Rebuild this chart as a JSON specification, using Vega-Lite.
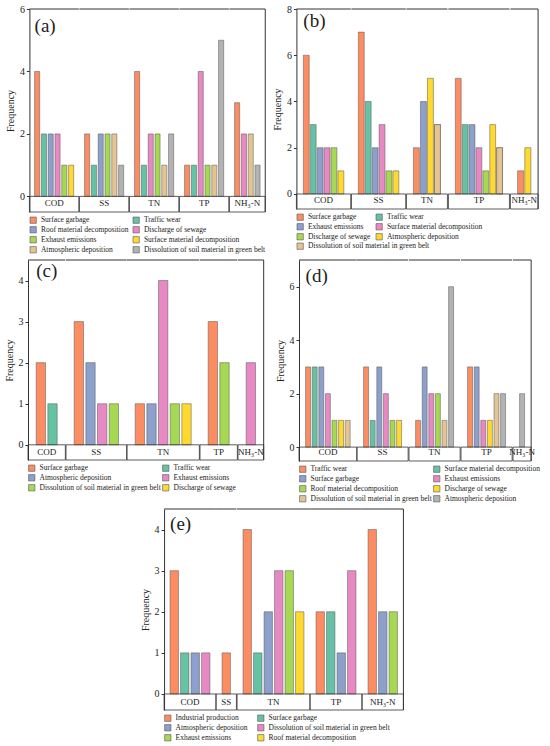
{
  "$schema": "https://vega.github.io/schema/vega-lite/v6.json",
  "padding": {"left": 4, "top": 4, "right": 2, "bottom": 2},
  "datasets": {
    "a": [
      {"g": "COD", "s": "Surface garbage", "v": 4},
      {"g": "COD", "s": "Traffic wear", "v": 2},
      {"g": "COD", "s": "Roof material decomposition", "v": 2},
      {"g": "COD", "s": "Discharge of sewage", "v": 2},
      {"g": "COD", "s": "Exhaust emissions", "v": 1},
      {"g": "COD", "s": "Surface material decomposition", "v": 1},
      {"g": "SS", "s": "Surface garbage", "v": 2},
      {"g": "SS", "s": "Traffic wear", "v": 1},
      {"g": "SS", "s": "Roof material decomposition", "v": 2},
      {"g": "SS", "s": "Exhaust emissions", "v": 2},
      {"g": "SS", "s": "Atmospheric deposition", "v": 2},
      {"g": "SS", "s": "Dissolution of soil material in green belt", "v": 1},
      {"g": "TN", "s": "Surface garbage", "v": 4},
      {"g": "TN", "s": "Traffic wear", "v": 1},
      {"g": "TN", "s": "Discharge of sewage", "v": 2},
      {"g": "TN", "s": "Exhaust emissions", "v": 2},
      {"g": "TN", "s": "Atmospheric deposition", "v": 1},
      {"g": "TN", "s": "Dissolution of soil material in green belt", "v": 2},
      {"g": "TP", "s": "Surface garbage", "v": 1},
      {"g": "TP", "s": "Traffic wear", "v": 1},
      {"g": "TP", "s": "Discharge of sewage", "v": 4},
      {"g": "TP", "s": "Exhaust emissions", "v": 1},
      {"g": "TP", "s": "Atmospheric deposition", "v": 1},
      {"g": "TP", "s": "Dissolution of soil material in green belt", "v": 5},
      {"g": "NH₃-N", "s": "Surface garbage", "v": 3},
      {"g": "NH₃-N", "s": "Discharge of sewage", "v": 2},
      {"g": "NH₃-N", "s": "Atmospheric deposition", "v": 2},
      {"g": "NH₃-N", "s": "Dissolution of soil material in green belt", "v": 1}
    ],
    "b": [
      {"g": "COD", "s": "Surface garbage", "v": 6},
      {"g": "COD", "s": "Traffic wear", "v": 3},
      {"g": "COD", "s": "Exhaust emissions", "v": 2},
      {"g": "COD", "s": "Surface material decomposition", "v": 2},
      {"g": "COD", "s": "Discharge of sewage", "v": 2},
      {"g": "COD", "s": "Atmospheric deposition", "v": 1},
      {"g": "SS", "s": "Surface garbage", "v": 7},
      {"g": "SS", "s": "Traffic wear", "v": 4},
      {"g": "SS", "s": "Exhaust emissions", "v": 2},
      {"g": "SS", "s": "Surface material decomposition", "v": 3},
      {"g": "SS", "s": "Discharge of sewage", "v": 1},
      {"g": "SS", "s": "Atmospheric deposition", "v": 1},
      {"g": "TN", "s": "Surface garbage", "v": 2},
      {"g": "TN", "s": "Exhaust emissions", "v": 4},
      {"g": "TN", "s": "Atmospheric deposition", "v": 5},
      {"g": "TN", "s": "Dissolution of soil material in green belt", "v": 3},
      {"g": "TP", "s": "Surface garbage", "v": 5},
      {"g": "TP", "s": "Traffic wear", "v": 3},
      {"g": "TP", "s": "Exhaust emissions", "v": 3},
      {"g": "TP", "s": "Surface material decomposition", "v": 2},
      {"g": "TP", "s": "Discharge of sewage", "v": 1},
      {"g": "TP", "s": "Atmospheric deposition", "v": 3},
      {"g": "TP", "s": "Dissolution of soil material in green belt", "v": 2},
      {"g": "NH₃-N", "s": "Surface garbage", "v": 1},
      {"g": "NH₃-N", "s": "Atmospheric deposition", "v": 2}
    ],
    "c": [
      {"g": "COD", "s": "Surface garbage", "v": 2},
      {"g": "COD", "s": "Traffic wear", "v": 1},
      {"g": "SS", "s": "Surface garbage", "v": 3},
      {"g": "SS", "s": "Atmospheric deposition", "v": 2},
      {"g": "SS", "s": "Exhaust emissions", "v": 1},
      {"g": "SS", "s": "Dissolution of soil material in green belt", "v": 1},
      {"g": "TN", "s": "Surface garbage", "v": 1},
      {"g": "TN", "s": "Atmospheric deposition", "v": 1},
      {"g": "TN", "s": "Exhaust emissions", "v": 4},
      {"g": "TN", "s": "Dissolution of soil material in green belt", "v": 1},
      {"g": "TN", "s": "Discharge of sewage", "v": 1},
      {"g": "TP", "s": "Surface garbage", "v": 3},
      {"g": "TP", "s": "Dissolution of soil material in green belt", "v": 2},
      {"g": "NH₃-N", "s": "Exhaust emissions", "v": 2}
    ],
    "d": [
      {"g": "COD", "s": "Traffic wear", "v": 3},
      {"g": "COD", "s": "Surface material decomposition", "v": 3},
      {"g": "COD", "s": "Surface garbage", "v": 3},
      {"g": "COD", "s": "Exhaust emissions", "v": 2},
      {"g": "COD", "s": "Roof material decomposition", "v": 1},
      {"g": "COD", "s": "Discharge of sewage", "v": 1},
      {"g": "COD", "s": "Dissolution of soil material in green belt", "v": 1},
      {"g": "SS", "s": "Traffic wear", "v": 3},
      {"g": "SS", "s": "Surface material decomposition", "v": 1},
      {"g": "SS", "s": "Surface garbage", "v": 3},
      {"g": "SS", "s": "Exhaust emissions", "v": 2},
      {"g": "SS", "s": "Roof material decomposition", "v": 1},
      {"g": "SS", "s": "Discharge of sewage", "v": 1},
      {"g": "TN", "s": "Traffic wear", "v": 1},
      {"g": "TN", "s": "Surface garbage", "v": 3},
      {"g": "TN", "s": "Exhaust emissions", "v": 2},
      {"g": "TN", "s": "Roof material decomposition", "v": 2},
      {"g": "TN", "s": "Dissolution of soil material in green belt", "v": 1},
      {"g": "TN", "s": "Atmospheric deposition", "v": 6},
      {"g": "TP", "s": "Traffic wear", "v": 3},
      {"g": "TP", "s": "Surface garbage", "v": 3},
      {"g": "TP", "s": "Exhaust emissions", "v": 1},
      {"g": "TP", "s": "Discharge of sewage", "v": 1},
      {"g": "TP", "s": "Dissolution of soil material in green belt", "v": 2},
      {"g": "TP", "s": "Atmospheric deposition", "v": 2},
      {"g": "NH₃-N", "s": "Atmospheric deposition", "v": 2}
    ],
    "e": [
      {"g": "COD", "s": "Industrial production", "v": 3},
      {"g": "COD", "s": "Surface garbage", "v": 1},
      {"g": "COD", "s": "Atmospheric deposition", "v": 1},
      {"g": "COD", "s": "Dissolution of soil material in green belt", "v": 1},
      {"g": "SS", "s": "Industrial production", "v": 1},
      {"g": "TN", "s": "Industrial production", "v": 4},
      {"g": "TN", "s": "Surface garbage", "v": 1},
      {"g": "TN", "s": "Atmospheric deposition", "v": 2},
      {"g": "TN", "s": "Dissolution of soil material in green belt", "v": 3},
      {"g": "TN", "s": "Exhaust emissions", "v": 3},
      {"g": "TN", "s": "Roof material decomposition", "v": 2},
      {"g": "TP", "s": "Industrial production", "v": 2},
      {"g": "TP", "s": "Surface garbage", "v": 2},
      {"g": "TP", "s": "Atmospheric deposition", "v": 1},
      {"g": "TP", "s": "Dissolution of soil material in green belt", "v": 3},
      {"g": "NH₃-N", "s": "Industrial production", "v": 4},
      {"g": "NH₃-N", "s": "Atmospheric deposition", "v": 2},
      {"g": "NH₃-N", "s": "Exhaust emissions", "v": 2}
    ]
  },
  "vconcat": [
    {
      "hconcat": [
        {
          "data": {"name": "a"},
          "facet": {"column": {"field": "g", "type": "nominal", "sort": ["COD", "SS", "TN", "TP", "NH₃-N"], "header": {"title": null, "labelOrient": "bottom", "labelPadding": -13}}},
          "spacing": 0,
          "bounds": "flush",
          "resolve": {"scale": {"x": "independent"}},
          "spec": {
            "width": {"step": 6.8},
            "height": 203,
            "layer": [
              {
                "mark": {"type": "bar", "stroke": "#555", "strokeWidth": 0.5},
                "encoding": {
                  "x": {"field": "s", "type": "nominal", "axis": null,
                    "sort": ["Surface garbage", "Traffic wear", "Roof material decomposition", "Discharge of sewage", "Exhaust emissions", "Surface material decomposition", "Atmospheric deposition", "Dissolution of soil material in green belt"],
                    "scale": {"paddingInner": 0.25, "paddingOuter": 0.76}},
                  "y": {"field": "v", "type": "quantitative", "title": "Frequency",
                    "scale": {"domain": [-0.5, 6], "nice": false}, "axis": {"values": [0, 2, 4, 6]}},
                  "y2": {"datum": 0},
                  "color": {"field": "s", "type": "nominal",
                    "scale": {"domain": ["Surface garbage", "Traffic wear", "Roof material decomposition", "Discharge of sewage", "Exhaust emissions", "Surface material decomposition", "Atmospheric deposition", "Dissolution of soil material in green belt"],
                      "range": ["#FC8D62", "#66C2A5", "#8DA0CB", "#E78AC3", "#A6D854", "#FFD92F", "#E5C494", "#B3B3B3"]},
                    "legend": {"title": null, "columnPadding": 3}}
                }
              },
              {
                "transform": [{"aggregate": [{"op": "count", "as": "n"}], "groupby": ["g"]}],
                "mark": {"type": "rect", "fillOpacity": 0, "stroke": "#333", "strokeWidth": 0.8},
                "encoding": {"y": {"datum": -0.5}, "y2": {"datum": 0}}
              },
              {
                "transform": [{"aggregate": [{"op": "count", "as": "n"}], "groupby": ["g"]}],
                "mark": {"type": "rule", "color": "#333"},
                "encoding": {"x": {"value": 0}, "x2": {"value": "width"}, "y": {"datum": 6}}
              },
              {
                "transform": [{"filter": "datum.g === 'NH₃-N'"}, {"aggregate": [{"op": "count", "as": "n"}], "groupby": ["g"]}],
                "mark": {"type": "rule", "color": "#333"},
                "encoding": {"x": {"value": "width"}, "y": {"datum": 6}, "y2": {"datum": -0.5}}
              },
              {
                "transform": [{"filter": "datum.g === 'COD' && datum.s === 'Surface garbage'"}],
                "mark": {"type": "text", "align": "left", "baseline": "middle", "fontSize": 19},
                "encoding": {
                  "x": {"field": "s", "type": "nominal", "bandPosition": 0,
                    "sort": ["Surface garbage", "Traffic wear", "Roof material decomposition", "Discharge of sewage", "Exhaust emissions", "Surface material decomposition", "Atmospheric deposition", "Dissolution of soil material in green belt"]},
                  "y": {"datum": 5.45},
                  "text": {"value": "(a)"}
                }
              }
            ]
          }
        },
        {
          "data": {"name": "b"},
          "facet": {"column": {"field": "g", "type": "nominal", "sort": ["COD", "SS", "TN", "TP", "NH₃-N"], "header": {"title": null, "labelOrient": "bottom", "labelPadding": -13}}},
          "spacing": 0,
          "bounds": "flush",
          "resolve": {"scale": {"x": "independent"}},
          "spec": {
            "width": {"step": 6.67},
            "height": 200,
            "layer": [
              {
                "mark": {"type": "bar", "stroke": "#555", "strokeWidth": 0.5},
                "encoding": {
                  "x": {"field": "s", "type": "nominal", "axis": null,
                    "sort": ["Surface garbage", "Traffic wear", "Exhaust emissions", "Surface material decomposition", "Discharge of sewage", "Atmospheric deposition", "Dissolution of soil material in green belt"],
                    "scale": {"paddingInner": 0.15, "paddingOuter": 1.15}},
                  "y": {"field": "v", "type": "quantitative", "title": "Frequency",
                    "scale": {"domain": [-0.65, 8], "nice": false}, "axis": {"values": [0, 2, 4, 6, 8]}},
                  "y2": {"datum": 0},
                  "color": {"field": "s", "type": "nominal",
                    "scale": {"domain": ["Surface garbage", "Traffic wear", "Exhaust emissions", "Surface material decomposition", "Discharge of sewage", "Atmospheric deposition", "Dissolution of soil material in green belt"],
                      "range": ["#FC8D62", "#66C2A5", "#8DA0CB", "#E78AC3", "#A6D854", "#FFD92F", "#E5C494"]},
                    "legend": {"title": null, "columnPadding": 4,
                      "values": ["Surface garbage", "Traffic wear", "Exhaust emissions", "Surface material decomposition", "Discharge of sewage", "Atmospheric deposition"]}}
                }
              },
              {
                "transform": [{"filter": "datum.s === 'Dissolution of soil material in green belt'"}],
                "mark": {"type": "bar", "stroke": "#555", "strokeWidth": 0.5},
                "encoding": {
                  "x": {"field": "s", "type": "nominal",
                    "sort": ["Surface garbage", "Traffic wear", "Exhaust emissions", "Surface material decomposition", "Discharge of sewage", "Atmospheric deposition", "Dissolution of soil material in green belt"]},
                  "y": {"field": "v", "type": "quantitative"},
                  "y2": {"datum": 0},
                  "fill": {"field": "s", "type": "nominal",
                    "scale": {"domain": ["Dissolution of soil material in green belt"], "range": ["#E5C494"]},
                    "legend": {"title": null}}
                }
              },
              {
                "transform": [{"aggregate": [{"op": "count", "as": "n"}], "groupby": ["g"]}],
                "mark": {"type": "rect", "fillOpacity": 0, "stroke": "#333", "strokeWidth": 0.8},
                "encoding": {"y": {"datum": -0.65}, "y2": {"datum": 0}}
              },
              {
                "transform": [{"aggregate": [{"op": "count", "as": "n"}], "groupby": ["g"]}],
                "mark": {"type": "rule", "color": "#333"},
                "encoding": {"x": {"value": 0}, "x2": {"value": "width"}, "y": {"datum": 8}}
              },
              {
                "transform": [{"filter": "datum.g === 'NH₃-N'"}, {"aggregate": [{"op": "count", "as": "n"}], "groupby": ["g"]}],
                "mark": {"type": "rule", "color": "#333"},
                "encoding": {"x": {"value": "width"}, "y": {"datum": 8}, "y2": {"datum": -0.65}}
              },
              {
                "transform": [{"filter": "datum.g === 'COD' && datum.s === 'Surface garbage'"}],
                "mark": {"type": "text", "align": "left", "baseline": "middle", "fontSize": 19},
                "encoding": {
                  "x": {"field": "s", "type": "nominal", "bandPosition": 0,
                    "sort": ["Surface garbage", "Traffic wear", "Exhaust emissions", "Surface material decomposition", "Discharge of sewage", "Atmospheric deposition", "Dissolution of soil material in green belt"]},
                  "y": {"datum": 7.47},
                  "text": {"value": "(b)"}
                }
              }
            ]
          }
        }
      ],
      "spacing": 6,
      "resolve": {"scale": {"x": "independent", "y": "independent", "color": "independent", "fill": "independent"}}
    },
    {
      "hconcat": [
        {
          "data": {"name": "c"},
          "facet": {"column": {"field": "g", "type": "nominal", "sort": ["COD", "SS", "TN", "TP", "NH₃-N"], "header": {"title": null, "labelOrient": "bottom", "labelPadding": -12}}},
          "spacing": 0,
          "bounds": "flush",
          "resolve": {"scale": {"x": "independent"}},
          "spec": {
            "width": {"step": 11.67},
            "height": 200,
            "layer": [
              {
                "mark": {"type": "bar", "stroke": "#555", "strokeWidth": 0.5},
                "encoding": {
                  "x": {"field": "s", "type": "nominal", "axis": null,
                    "sort": ["Surface garbage", "Traffic wear", "Atmospheric deposition", "Exhaust emissions", "Dissolution of soil material in green belt", "Discharge of sewage"],
                    "scale": {"paddingInner": 0.2, "paddingOuter": 0.7}},
                  "y": {"field": "v", "type": "quantitative", "title": "Frequency",
                    "scale": {"domain": [-0.37, 4.5], "nice": false}, "axis": {"values": [0, 1, 2, 3, 4]}},
                  "y2": {"datum": 0},
                  "color": {"field": "s", "type": "nominal",
                    "scale": {"domain": ["Surface garbage", "Traffic wear", "Atmospheric deposition", "Exhaust emissions", "Dissolution of soil material in green belt", "Discharge of sewage"],
                      "range": ["#FC8D62", "#66C2A5", "#8DA0CB", "#E78AC3", "#A6D854", "#FFD92F"]},
                    "legend": {"title": null, "columnPadding": 0}}
                }
              },
              {
                "transform": [{"aggregate": [{"op": "count", "as": "n"}], "groupby": ["g"]}],
                "mark": {"type": "rect", "fillOpacity": 0, "stroke": "#333", "strokeWidth": 0.8},
                "encoding": {"y": {"datum": -0.37}, "y2": {"datum": 0}}
              },
              {
                "transform": [{"aggregate": [{"op": "count", "as": "n"}], "groupby": ["g"]}],
                "mark": {"type": "rule", "color": "#333"},
                "encoding": {"x": {"value": 0}, "x2": {"value": "width"}, "y": {"datum": 4.5}}
              },
              {
                "transform": [{"filter": "datum.g === 'NH₃-N'"}, {"aggregate": [{"op": "count", "as": "n"}], "groupby": ["g"]}],
                "mark": {"type": "rule", "color": "#333"},
                "encoding": {"x": {"value": "width"}, "y": {"datum": 4.5}, "y2": {"datum": -0.37}}
              },
              {
                "transform": [{"filter": "datum.g === 'COD' && datum.s === 'Surface garbage'"}],
                "mark": {"type": "text", "align": "left", "baseline": "middle", "fontSize": 19},
                "encoding": {
                  "x": {"field": "s", "type": "nominal", "bandPosition": 0,
                    "sort": ["Surface garbage", "Traffic wear", "Atmospheric deposition", "Exhaust emissions", "Dissolution of soil material in green belt", "Discharge of sewage"]},
                  "y": {"datum": 4.22},
                  "text": {"value": "(c)"}
                }
              }
            ]
          }
        },
        {
          "data": {"name": "d"},
          "facet": {"column": {"field": "g", "type": "nominal", "sort": ["COD", "SS", "TN", "TP", "NH₃-N"], "header": {"title": null, "labelOrient": "bottom", "labelPadding": -13}}},
          "spacing": 0,
          "bounds": "flush",
          "resolve": {"scale": {"x": "independent"}},
          "spec": {
            "width": {"step": 6.6},
            "height": 201,
            "layer": [
              {
                "mark": {"type": "bar", "stroke": "#555", "strokeWidth": 0.5},
                "encoding": {
                  "x": {"field": "s", "type": "nominal", "axis": null,
                    "sort": ["Traffic wear", "Surface material decomposition", "Surface garbage", "Exhaust emissions", "Roof material decomposition", "Discharge of sewage", "Dissolution of soil material in green belt", "Atmospheric deposition"],
                    "scale": {"paddingInner": 0.25, "paddingOuter": 1.0}},
                  "y": {"field": "v", "type": "quantitative", "title": "Frequency",
                    "scale": {"domain": [-0.52, 7], "nice": false}, "axis": {"values": [0, 2, 4, 6]}},
                  "y2": {"datum": 0},
                  "color": {"field": "s", "type": "nominal",
                    "scale": {"domain": ["Traffic wear", "Surface material decomposition", "Surface garbage", "Exhaust emissions", "Roof material decomposition", "Discharge of sewage", "Dissolution of soil material in green belt", "Atmospheric deposition"],
                      "range": ["#FC8D62", "#66C2A5", "#8DA0CB", "#E78AC3", "#A6D854", "#FFD92F", "#E5C494", "#B3B3B3"]},
                    "legend": {"title": null, "columnPadding": 0}}
                }
              },
              {
                "transform": [{"aggregate": [{"op": "count", "as": "n"}], "groupby": ["g"]}],
                "mark": {"type": "rect", "fillOpacity": 0, "stroke": "#333", "strokeWidth": 0.8},
                "encoding": {"y": {"datum": -0.52}, "y2": {"datum": 0}}
              },
              {
                "transform": [{"aggregate": [{"op": "count", "as": "n"}], "groupby": ["g"]}],
                "mark": {"type": "rule", "color": "#333"},
                "encoding": {"x": {"value": 0}, "x2": {"value": "width"}, "y": {"datum": 7}}
              },
              {
                "transform": [{"filter": "datum.g === 'NH₃-N'"}, {"aggregate": [{"op": "count", "as": "n"}], "groupby": ["g"]}],
                "mark": {"type": "rule", "color": "#333"},
                "encoding": {"x": {"value": "width"}, "y": {"datum": 7}, "y2": {"datum": -0.52}}
              },
              {
                "transform": [{"filter": "datum.g === 'COD' && datum.s === 'Traffic wear'"}],
                "mark": {"type": "text", "align": "left", "baseline": "middle", "fontSize": 19},
                "encoding": {
                  "x": {"field": "s", "type": "nominal", "bandPosition": 0,
                    "sort": ["Traffic wear", "Surface material decomposition", "Surface garbage", "Exhaust emissions", "Roof material decomposition", "Discharge of sewage", "Dissolution of soil material in green belt", "Atmospheric deposition"]},
                  "y": {"datum": 6.4},
                  "text": {"value": "(d)"}
                }
              }
            ]
          }
        }
      ],
      "spacing": 10,
      "resolve": {"scale": {"x": "independent", "y": "independent", "color": "independent"}}
    },
    {
      "data": {"name": "e"},
      "facet": {"column": {"field": "g", "type": "nominal", "sort": ["COD", "SS", "TN", "TP", "NH₃-N"], "header": {"title": null, "labelOrient": "bottom", "labelPadding": -12}}},
      "spacing": 0,
      "bounds": "flush",
      "resolve": {"scale": {"x": "independent"}},
      "spec": {
        "width": {"step": 10.5},
        "height": 201,
        "layer": [
          {
            "mark": {"type": "bar", "stroke": "#555", "strokeWidth": 0.5},
            "encoding": {
              "x": {"field": "s", "type": "nominal", "axis": null,
                "sort": ["Industrial production", "Surface garbage", "Atmospheric deposition", "Dissolution of soil material in green belt", "Exhaust emissions", "Roof material decomposition"],
                "scale": {"paddingInner": 0.2, "paddingOuter": 0.57}},
              "y": {"field": "v", "type": "quantitative", "title": "Frequency",
                "scale": {"domain": [-0.39, 4.5], "nice": false}, "axis": {"values": [0, 1, 2, 3, 4]}},
              "y2": {"datum": 0},
              "color": {"field": "s", "type": "nominal",
                "scale": {"domain": ["Industrial production", "Surface garbage", "Atmospheric deposition", "Dissolution of soil material in green belt", "Exhaust emissions", "Roof material decomposition"],
                  "range": ["#FC8D62", "#66C2A5", "#8DA0CB", "#E78AC3", "#A6D854", "#FFD92F"]},
                "legend": {"title": null, "columnPadding": 8}}
            }
          },
          {
            "transform": [{"aggregate": [{"op": "count", "as": "n"}], "groupby": ["g"]}],
            "mark": {"type": "rect", "fillOpacity": 0, "stroke": "#333", "strokeWidth": 0.8},
            "encoding": {"y": {"datum": -0.39}, "y2": {"datum": 0}}
          },
          {
            "transform": [{"aggregate": [{"op": "count", "as": "n"}], "groupby": ["g"]}],
            "mark": {"type": "rule", "color": "#333"},
            "encoding": {"x": {"value": 0}, "x2": {"value": "width"}, "y": {"datum": 4.5}}
          },
          {
            "transform": [{"filter": "datum.g === 'NH₃-N'"}, {"aggregate": [{"op": "count", "as": "n"}], "groupby": ["g"]}],
            "mark": {"type": "rule", "color": "#333"},
            "encoding": {"x": {"value": "width"}, "y": {"datum": 4.5}, "y2": {"datum": -0.39}}
          },
          {
            "transform": [{"filter": "datum.g === 'COD' && datum.s === 'Industrial production'"}],
            "mark": {"type": "text", "align": "left", "baseline": "middle", "fontSize": 19},
            "encoding": {
              "x": {"field": "s", "type": "nominal", "bandPosition": 0,
                "sort": ["Industrial production", "Surface garbage", "Atmospheric deposition", "Dissolution of soil material in green belt", "Exhaust emissions", "Roof material decomposition"]},
              "y": {"datum": 4.13},
              "text": {"value": "(e)"}
            }
          }
        ]
      }
    }
  ],
  "spacing": 4,
  "center": true,
  "resolve": {"scale": {"x": "independent", "y": "independent", "color": "independent", "fill": "independent"}},
  "config": {
    "font": "Liberation Serif",
    "view": {"stroke": null},
    "header": {
      "labelFont": "Liberation Serif",
      "labelFontSize": 9,
      "labelColor": "#222",
      "labelBaseline": "top"
    },
    "axis": {
      "domainColor": "#333",
      "tickColor": "#333",
      "tickSize": 3,
      "grid": false,
      "labelFont": "Liberation Serif",
      "labelFontSize": 10,
      "labelColor": "#222",
      "labelPadding": 2,
      "titleFont": "Liberation Serif",
      "titleFontSize": 10,
      "titleFontWeight": "normal",
      "titleColor": "#222",
      "titlePadding": 4
    },
    "legend": {
      "orient": "bottom",
      "direction": "horizontal",
      "columns": 2,
      "symbolType": "square",
      "symbolSize": 40,
      "symbolStrokeColor": "#555",
      "symbolStrokeWidth": 0.6,
      "labelFont": "Liberation Serif",
      "labelFontSize": 7.5,
      "labelColor": "#222",
      "labelLimit": 300,
      "labelOffset": 4,
      "rowPadding": 0,
      "offset": 3,
      "padding": 0,
      "layout": {"bottom": {"anchor": "start", "direction": "vertical", "margin": 0}}
    },
    "text": {"font": "Liberation Serif", "color": "#222"}
  }
}
